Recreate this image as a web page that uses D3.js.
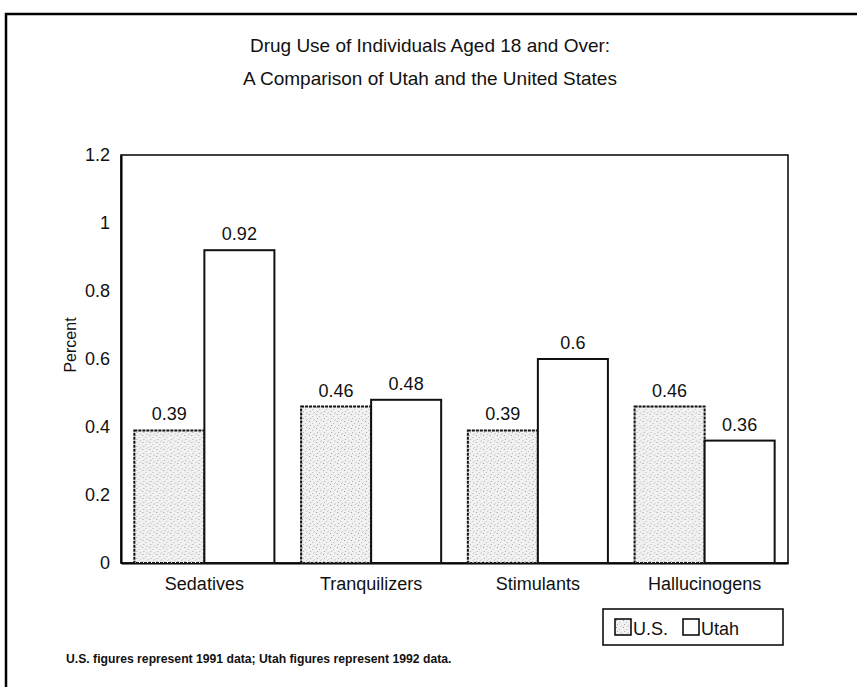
<!DOCTYPE html>
<html><head><meta charset="utf-8">
<script src="https://cdn.jsdelivr.net/npm/d3@7/dist/d3.min.js"></script>
<style>body{margin:0;background:#fff}svg{display:block}text{font-family:"Liberation Sans",Arial,sans-serif;fill:#111}</style>
</head><body><div id="chart"></div>
<script>
const categories = ["Sedatives", "Tranquilizers", "Stimulants", "Hallucinogens"];
const seriesNames = ["U.S.", "Utah"];
const usValues = [0.39, 0.46, 0.39, 0.46];
const utahValues = [0.92, 0.48, 0.6, 0.36];
const yTicks = [0, 0.2, 0.4, 0.6, 0.8, 1, 1.2];
const titleLines = ["Drug Use of Individuals Aged 18 and Over:", "A Comparison of Utah and the United States"];
const yTitle = "Percent";
const footnote = "U.S. figures represent 1991 data; Utah figures represent 1992 data.";

const W = 857, H = 687;
const FONT = '"Liberation Sans",Arial,sans-serif';
const svg = d3.select("#chart").append("svg").attr("width", W).attr("height", H);

// stipple pattern
const defs = svg.append("defs");
const pat = defs.append("pattern").attr("id", "stip").attr("patternUnits", "userSpaceOnUse").attr("width", 7).attr("height", 7);
pat.append("rect").attr("width", 7).attr("height", 7).attr("fill", "#f1f1f1");
[[1,1,"#999"],[4,3,"#bbb"],[2,5,"#aaa"],[6,6,"#ccc"],[5,0,"#c4c4c4"]].forEach(d =>
  pat.append("rect").attr("x", d[0]).attr("y", d[1]).attr("width", 1).attr("height", 1).attr("fill", d[2]));

// outer frame
svg.append("path").attr("d", `M6,${H} V14 H${W}`).attr("fill", "none").attr("stroke", "#000").attr("stroke-width", 2.5);

const m = {left: 121, right: 788, top: 155, bottom: 563};
const x0 = d3.scaleBand().domain(categories).range([m.left, m.right]).paddingInner(0.16).paddingOuter(0.08);
const x1 = d3.scaleBand().domain(seriesNames).range([0, x0.bandwidth()]);
const y = d3.scaleLinear().domain([0, 1.2]).range([m.bottom, m.top]);

// titles
svg.selectAll("text.title").data(titleLines).enter().append("text")
  .attr("x", 430).attr("y", (d, i) => 52 + i * 33).attr("text-anchor", "middle")
  .style("font-size", "19px").text(d => d);

// plot box
svg.append("rect").attr("x", m.left).attr("y", m.top).attr("width", m.right - m.left).attr("height", m.bottom - m.top)
  .attr("fill", "none").attr("stroke", "#000").attr("stroke-width", 1.5);

// y axis
const yAxis = d3.axisLeft(y).tickValues(yTicks).tickSize(0).tickPadding(11).tickFormat(d3.format("~g"));
const ya = svg.append("g").attr("transform", `translate(${m.left},0)`).call(yAxis);
ya.select(".domain").attr("stroke", "#000").attr("stroke-width", 2);
ya.selectAll("text").style("font-size", "18px").style("font-family", FONT).attr("fill", "#111");

// x axis labels
const xAxis = d3.axisBottom(x0).tickSize(0).tickPadding(14);
const xa = svg.append("g").attr("transform", `translate(0,${m.bottom})`).call(xAxis);
xa.select(".domain").attr("stroke", "#000").attr("stroke-width", 2);
xa.selectAll("text").style("font-size", "18px").style("font-family", FONT).attr("fill", "#111");

svg.append("text").attr("transform", `translate(76,${(m.top + m.bottom) / 2 - 14}) rotate(-90)`)
  .attr("text-anchor", "middle").style("font-size", "16px").text(yTitle);

const rows = categories.map((c, i) => ({c, vals: [{s: "U.S.", v: usValues[i]}, {s: "Utah", v: utahValues[i]}]}));
const g = svg.selectAll("g.grp").data(rows).enter().append("g").attr("transform", d => `translate(${x0(d.c)},0)`);
g.selectAll("rect").data(d => d.vals).enter().append("rect")
  .attr("x", d => x1(d.s)).attr("y", d => y(d.v)).attr("width", x1.bandwidth()).attr("height", d => y(0) - y(d.v))
  .attr("fill", d => d.s === "U.S." ? "url(#stip)" : "#fff").attr("stroke", "#111")
  .attr("stroke-width", 2).attr("stroke-dasharray", d => d.s === "U.S." ? "3,1" : null);
g.selectAll("text").data(d => d.vals).enter().append("text")
  .attr("x", d => x1(d.s) + x1.bandwidth() / 2).attr("y", d => y(d.v) - 10).attr("text-anchor", "middle")
  .style("font-size", "18px").text(d => d3.format("~g")(d.v));

// legend
const lg = svg.append("g").attr("transform", "translate(603,609)");
lg.append("rect").attr("width", 180).attr("height", 36).attr("fill", "#fff").attr("stroke", "#000").attr("stroke-width", 1.5);
const li = lg.selectAll("g").data(seriesNames).enter().append("g").attr("transform", (d, i) => `translate(${12 + i * 68},10)`);
li.append("rect").attr("width", 16).attr("height", 16).attr("fill", d => d === "U.S." ? "url(#stip)" : "#fff").attr("stroke", "#000").attr("stroke-width", 1.5);
li.append("text").attr("x", 18).attr("y", 16).style("font-size", "18px").text(d => d);

svg.append("text").attr("x", 66).attr("y", 663).style("font-size", "12.2px").style("font-weight", "bold").attr("fill", "#222").text(footnote);
</script></body></html>
